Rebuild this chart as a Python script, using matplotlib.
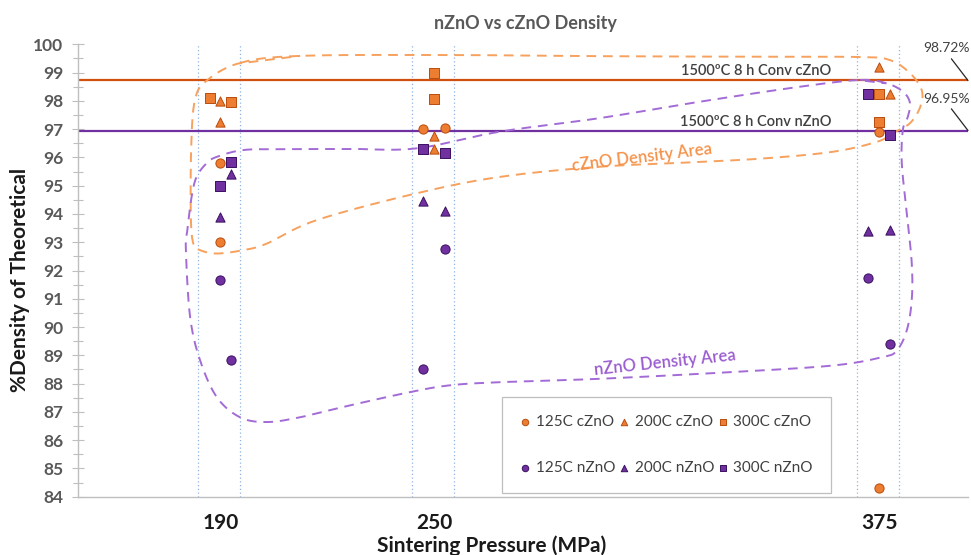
import numpy as np
import matplotlib
matplotlib.use('Agg')
import matplotlib.pyplot as plt

plt.rcParams['font.family'] = ['Lato', 'DejaVu Sans']

# pressures (MPa) and measured densities (% of theoretical)
c125_x = [190, 190, 247, 253, 375, 375]
c125_y = [95.8, 93.0, 97.0, 97.05, 96.9, 84.3]
c200_x = [190, 190, 250, 250, 375, 378]
c200_y = [98.0, 97.25, 96.75, 96.3, 99.2, 98.25]
c300_x = [187, 193, 250, 250, 375, 375]
c300_y = [98.1, 97.95, 99.0, 98.05, 98.25, 97.25]
n125_x = [190, 193, 253, 247, 372, 378]
n125_y = [91.65, 88.85, 92.75, 88.5, 91.75, 89.4]
n200_x = [190, 193, 247, 253, 372, 378]
n200_y = [93.9, 95.4, 94.45, 94.1, 93.4, 93.45]
n300_x = [190, 193, 247, 253, 372, 378]
n300_y = [95.0, 95.85, 96.3, 96.15, 98.25, 96.8]

pressures = [190, 250, 375]
conv_c = 98.72
conv_n = 96.95

# hand drawn "area" outlines (pressure, density)
c_area_x = [195.5, 212.4, 254.5, 296.6, 338.8, 369.7, 378.1, 383.7, 387.0, 386.6, 383.7,
            378.9, 374.4, 362.1, 343.4, 324.7, 296.6, 268.5, 245.1, 217.0, 203.0, 196.4,
            189.0, 184.3, 182.4, 181.7, 181.8, 182.8, 186.0]
c_area_y = [99.34, 99.59, 99.62, 99.58, 99.56, 99.55, 99.44, 98.98, 98.38, 97.79, 97.21,
            96.86, 96.55, 96.20, 95.97, 95.84, 95.67, 95.31, 94.73, 93.78, 92.95, 92.72,
            92.60, 92.72, 92.95, 93.9, 96.37, 98.0, 98.7]
n_area_x = [369.7, 377.1, 381.8, 383.7, 383.1, 381.7, 381.4, 382.8, 384.2, 384.2, 382.8,
            380.0, 376.1, 362.1, 334.0, 296.6, 268.5, 254.5, 243.3, 226.4, 212.4, 203.0,
            195.5, 189.0, 184.3, 181.5, 180.3, 180.7, 181.9, 183.3, 186.1, 189.0, 196.4,
            207.6, 226.4, 245.1, 268.5, 296.6, 324.7, 352.8]
n_area_y = [98.74, 98.62, 98.32, 97.92, 97.44, 96.97, 95.80, 94.03, 92.26, 90.96, 89.88,
            89.17, 88.94, 88.64, 88.41, 88.17, 88.05, 87.94, 87.70, 87.23, 86.81, 86.64,
            86.81, 87.52, 88.82, 90.35, 92.72, 93.42, 94.60, 95.31, 95.79, 96.02, 96.26,
            96.29, 96.30, 96.32, 96.91, 97.39, 97.97, 98.50]


def closed_spline(xs, ys, n=20):
    # uniform catmull-rom through the outline points
    p = np.column_stack([xs, ys])
    out = []
    m = len(p)
    t = np.linspace(0, 1, n, endpoint=False)[:, None]
    for i in range(m):
        p0, p1, p2, p3 = p[i - 1], p[i], p[(i + 1) % m], p[(i + 2) % m]
        out.append(0.5 * ((2 * p1) + (-p0 + p2) * t + (2 * p0 - 5 * p1 + 4 * p2 - p3) * t ** 2
                          + (-p0 + 3 * p1 - 3 * p2 + p3) * t ** 3))
    out = np.vstack(out + [p[1:2]])
    return out[:, 0], out[:, 1]


orange = '#ED7D31'
orange_edge = '#B84C0E'
purple = '#7030A0'
purple_edge = '#3A1060'

fig = plt.figure(figsize=(9.71, 5.55), dpi=100)
ax = fig.add_axes([78 / 971, 1 - 496.7 / 555, 890 / 971, 452.4 / 555])
ax.set_xlim(150, 400)
ax.set_ylim(84, 100)

for p in pressures:
    for dx in (-6.2, 5.6):
        ax.axvline(p + dx, color='#8EB4E3', lw=0.9, ls=(0, (1, 2)), zorder=1)

ax.axhline(conv_c, color='#D0500F', lw=1.6, zorder=2)
ax.axhline(conv_n, color=purple, lw=1.6, zorder=2)

cx, cy = closed_spline(c_area_x, c_area_y)
ax.plot(cx, cy, color='#F7A15E', lw=1.4, ls=(0, (5, 3.5)), zorder=3)
nx, ny = closed_spline(n_area_x, n_area_y)
ax.plot(nx, ny, color='#A36BD6', lw=1.4, ls=(0, (5, 3.5)), zorder=3)

ms = 44
h1 = ax.scatter(c125_x, c125_y, s=ms, marker='o', c=orange, edgecolors=orange_edge, lw=0.7, zorder=5, label='125C cZnO')
h2 = ax.scatter(c200_x, c200_y, s=ms, marker='^', c=orange, edgecolors=orange_edge, lw=0.7, zorder=5, label='200C cZnO')
h3 = ax.scatter(c300_x, c300_y, s=ms, marker='s', c=orange, edgecolors=orange_edge, lw=0.7, zorder=5, label='300C cZnO')
h4 = ax.scatter(n125_x, n125_y, s=ms, marker='o', c=purple, edgecolors=purple_edge, lw=0.7, zorder=5, label='125C nZnO')
h5 = ax.scatter(n200_x, n200_y, s=ms, marker='^', c=purple, edgecolors=purple_edge, lw=0.7, zorder=5, label='200C nZnO')
h6 = ax.scatter(n300_x, n300_y, s=ms, marker='s', c=purple, edgecolors=purple_edge, lw=0.7, zorder=5, label='300C nZnO')

# reference line labels
ax.annotate('1500\u00baC 8 h Conv cZnO', xy=(340.4, conv_c), xytext=(0, 2), textcoords='offset pixels',
            ha='center', va='bottom', fontsize=10.5, fontweight='semibold', color='#404040')
ax.annotate('1500\u00baC 8 h Conv nZnO', xy=(340.4, conv_n), xytext=(0, 2), textcoords='offset pixels',
            ha='center', va='bottom', fontsize=10.5, fontweight='semibold', color='#404040')
for v in (conv_c, conv_n):
    ax.annotate('', xy=(400, v), xytext=(-16.6, 21.7), textcoords='offset pixels',
                arrowprops=dict(arrowstyle='-', color='#262626', lw=0.9, shrinkA=0, shrinkB=0),
                annotation_clip=False)
    ax.annotate('%.2f%%' % v, xy=(400, v), xytext=(-45, 32), textcoords='offset pixels',
                ha='left', va='center', fontsize=10, color='#404040', annotation_clip=False)

ax.text(308.4, 96.0, 'cZnO Density Area', color='#F5924A', fontsize=12, fontweight='semibold',
        rotation=7, ha='center', va='center')
ax.text(314.9, 88.75, 'nZnO Density Area', color='#9A5CCF', fontsize=12, fontweight='semibold',
        rotation=6, ha='center', va='center')

ax.set_xticks(pressures)
ax.set_xticklabels([str(p) for p in pressures], fontsize=15, fontweight='bold', color='#1a1a1a')
ax.tick_params(axis='x', length=0, pad=12)
ax.set_yticks(np.arange(84, 101, 1))
ax.set_yticks(np.arange(84.5, 100, 1), minor=True)
ax.tick_params(axis='y', which='major', direction='inout', length=9, width=0.8, color='#BFBFBF',
               labelsize=12.5, labelcolor='#595959', pad=6)
ax.tick_params(axis='y', which='minor', direction='inout', length=7, width=0.8, color='#BFBFBF')
for lab in ax.get_yticklabels():
    lab.set_fontweight('bold')

for s in ('top', 'right'):
    ax.spines[s].set_visible(False)
for s in ('left', 'bottom'):
    ax.spines[s].set_color('#BFBFBF')
    ax.spines[s].set_linewidth(1.0)

leg = ax.legend(handles=[h1, h4, h2, h5, h3, h6], ncol=3, loc='upper left',
                bbox_to_anchor=(0.476, 0.221), borderaxespad=0, fancybox=False,
                edgecolor='#BFBFBF', fontsize=11, labelspacing=2.1, columnspacing=0.2,
                handlelength=0.7, handletextpad=0.35, borderpad=1.2, markerscale=0.7,
                framealpha=1)
leg.get_frame().set_linewidth(0.9)
for t in leg.get_texts():
    t.set_color('#404040')

fig.text(525 / 971, 1 - 23 / 555, 'nZnO vs cZnO Density', ha='center', va='center',
         fontsize=13, fontweight='bold', color='#595959')
fig.text(492 / 971, 1 - 546 / 555, 'Sintering Pressure (MPa)', ha='center', va='center',
         fontsize=15, fontweight='bold', color='#1a1a1a')
fig.text(20 / 971, 1 - 280 / 555, '%Density of Theoretical', ha='center', va='center',
         rotation=90, fontsize=15, fontweight='bold', color='#1a1a1a')

fig.savefig('out.png', dpi=100)
